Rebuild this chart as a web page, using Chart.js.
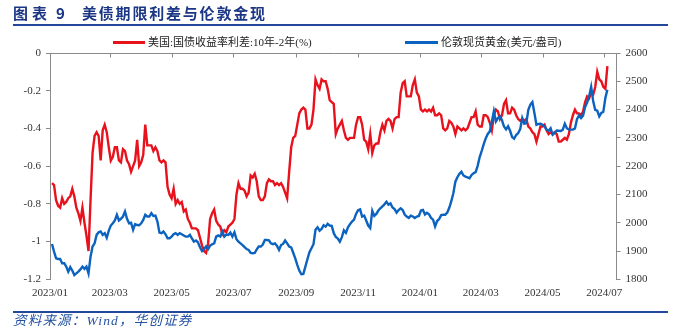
<!DOCTYPE html>
<html>
<head>
<meta charset="utf-8">
<script src="https://cdn.jsdelivr.net/npm/chart.js@4.4.1/dist/chart.umd.min.js"></script>
<style>
  html, body { margin: 0; padding: 0; background: #fff; }
  #wrap { position: relative; width: 680px; height: 327px; overflow: hidden; }
  #chart { position: absolute; left: 0; top: 0; }
  .t { position: absolute; white-space: nowrap; }
  .title { top: 2px; font: bold 15px "Noto Sans CJK SC", sans-serif; color: #1a3685; }
  .rule { position: absolute; left: 13px; width: 655px; height: 2px; background: #23479a; }
  .leg { top: 34px; font: 11px "Liberation Serif", "Noto Sans CJK SC", serif; color: #222; line-height: 16px; }
  .swatch { position: absolute; top: 41px; height: 3px; }
  .src { top: 314px; font: italic 13.5px "Liberation Serif", "Noto Sans CJK SC", serif; color: #2452a2; letter-spacing: 1.2px; line-height: 13px; }
</style>
</head>
<body>
<div id="wrap">
  <canvas id="chart" width="680" height="327"></canvas>
  <div class="t title" style="left:13px; letter-spacing:4px;">图表</div>
  <div class="t title" style="left:56px;">9</div>
  <div class="t title" style="left:82px; letter-spacing:1.8px;">美债期限利差与伦敦金现</div>
  <div class="rule" style="top:24px;"></div>
  <div class="swatch" style="left:113px; width:32px; background:#e8121d;"></div>
  <div class="t leg" style="left:148px;">美国:国债收益率利差:10年-2年(%)</div>
  <div class="swatch" style="left:405px; width:33px; background:#0b63bf;"></div>
  <div class="t leg" style="left:441px;">伦敦现货黄金(美元/盎司)</div>
  <div class="rule" style="top:311px;"></div>
  <div class="t src" style="left:13px;">资料来源：Wind，华创证券</div>
</div>
<script>
const dates = [
  '2023-01-03','2023-01-05','2023-01-07','2023-01-09','2023-01-11','2023-01-13','2023-01-15','2023-01-17','2023-01-19','2023-01-21','2023-01-23','2023-01-25','2023-01-27','2023-01-29','2023-01-31',
  '2023-02-02','2023-02-04','2023-02-06','2023-02-08','2023-02-10','2023-02-12','2023-02-14','2023-02-16','2023-02-18','2023-02-20','2023-02-22','2023-02-24','2023-02-26','2023-02-28',
  '2023-03-02','2023-03-04','2023-03-06','2023-03-08','2023-03-10','2023-03-12','2023-03-14','2023-03-16','2023-03-18','2023-03-20','2023-03-22','2023-03-24','2023-03-26','2023-03-28','2023-03-30',
  '2023-04-01','2023-04-03','2023-04-05','2023-04-07','2023-04-09','2023-04-11','2023-04-13','2023-04-15','2023-04-17','2023-04-19','2023-04-21','2023-04-23','2023-04-25','2023-04-27','2023-04-29',
  '2023-05-01','2023-05-03','2023-05-05','2023-05-07','2023-05-09','2023-05-11','2023-05-13','2023-05-15','2023-05-17','2023-05-19','2023-05-21','2023-05-23','2023-05-25','2023-05-27','2023-05-29','2023-05-31',
  '2023-06-02','2023-06-04','2023-06-06','2023-06-08','2023-06-10','2023-06-12','2023-06-14','2023-06-16','2023-06-18','2023-06-20','2023-06-22','2023-06-24','2023-06-26','2023-06-28','2023-06-30',
  '2023-07-02','2023-07-04','2023-07-06','2023-07-08','2023-07-10','2023-07-12','2023-07-14','2023-07-16','2023-07-18','2023-07-20','2023-07-22','2023-07-24','2023-07-26','2023-07-28','2023-07-30',
  '2023-08-01','2023-08-03','2023-08-05','2023-08-07','2023-08-09','2023-08-11','2023-08-13','2023-08-15','2023-08-17','2023-08-19','2023-08-21','2023-08-23','2023-08-25','2023-08-27','2023-08-29','2023-08-31',
  '2023-09-02','2023-09-04','2023-09-06','2023-09-08','2023-09-10','2023-09-12','2023-09-14','2023-09-16','2023-09-18','2023-09-20','2023-09-22','2023-09-24','2023-09-26','2023-09-28','2023-09-30',
  '2023-10-02','2023-10-04','2023-10-06','2023-10-08','2023-10-10','2023-10-12','2023-10-14','2023-10-16','2023-10-18','2023-10-20','2023-10-22','2023-10-24','2023-10-26','2023-10-28','2023-10-30',
  '2023-11-01','2023-11-03','2023-11-05','2023-11-07','2023-11-09','2023-11-11','2023-11-13','2023-11-15','2023-11-17','2023-11-19','2023-11-21','2023-11-23','2023-11-25','2023-11-27','2023-11-29',
  '2023-12-01','2023-12-03','2023-12-05','2023-12-07','2023-12-09','2023-12-11','2023-12-13','2023-12-15','2023-12-17','2023-12-19','2023-12-21','2023-12-23','2023-12-25','2023-12-27','2023-12-29','2023-12-31',
  '2024-01-02','2024-01-04','2024-01-06','2024-01-08','2024-01-10','2024-01-12','2024-01-14','2024-01-16','2024-01-18','2024-01-20','2024-01-22','2024-01-24','2024-01-26','2024-01-28','2024-01-30',
  '2024-02-01','2024-02-03','2024-02-05','2024-02-07','2024-02-09','2024-02-11','2024-02-13','2024-02-15','2024-02-17','2024-02-19','2024-02-21','2024-02-23','2024-02-25','2024-02-27','2024-02-29',
  '2024-03-02','2024-03-04','2024-03-06','2024-03-08','2024-03-10','2024-03-12','2024-03-14','2024-03-16','2024-03-18','2024-03-20','2024-03-22','2024-03-24','2024-03-26','2024-03-28','2024-03-30',
  '2024-04-01','2024-04-03','2024-04-05','2024-04-07','2024-04-09','2024-04-11','2024-04-13','2024-04-15','2024-04-17','2024-04-19','2024-04-21','2024-04-23','2024-04-25','2024-04-27','2024-04-29',
  '2024-05-01','2024-05-03','2024-05-05','2024-05-07','2024-05-09','2024-05-11','2024-05-13','2024-05-15','2024-05-17','2024-05-19','2024-05-21','2024-05-23','2024-05-25','2024-05-27','2024-05-29','2024-05-31',
  '2024-06-02','2024-06-04','2024-06-06','2024-06-08','2024-06-10','2024-06-12','2024-06-14','2024-06-16','2024-06-18','2024-06-20','2024-06-22','2024-06-24','2024-06-26','2024-06-28','2024-06-30',
  '2024-07-02','2024-07-04'
];

// 美国10年-2年国债收益率利差 (%)
const spread = [
  -0.69,-0.70,-0.78,-0.81,-0.82,-0.77,-0.80,-0.79,-0.77,-0.76,
  -0.72,-0.76,-0.82,-0.85,-0.89,-0.82,-0.90,-0.97,-1.05,-0.78,
  -0.53,-0.44,-0.42,-0.44,-0.57,-0.41,-0.38,-0.42,-0.50,-0.57,
  -0.55,-0.50,-0.50,-0.57,-0.58,-0.51,-0.52,-0.57,-0.59,-0.63,
  -0.60,-0.57,-0.46,-0.60,-0.58,-0.54,-0.38,-0.49,-0.49,-0.49,
  -0.52,-0.50,-0.52,-0.57,-0.58,-0.57,-0.58,-0.71,-0.75,-0.77,
  -0.72,-0.80,-0.78,-0.80,-0.79,-0.84,-0.83,-0.88,-0.90,-0.93,
  -0.93,-0.93,-0.94,-0.98,-1.02,-1.05,-1.06,-1.01,-0.88,-0.85,
  -0.83,-0.89,-0.91,-0.92,-0.96,-0.94,-0.95,-0.92,-0.91,-0.90,
  -0.88,-0.75,-0.69,-0.72,-0.72,-0.73,-0.76,-0.74,-0.65,-0.66,
  -0.64,-0.68,-0.76,-0.78,-0.78,-0.76,-0.69,-0.67,-0.68,-0.68,
  -0.70,-0.69,-0.70,-0.69,-0.71,-0.74,-0.77,-0.63,-0.50,-0.45,
  -0.44,-0.38,-0.32,-0.30,-0.29,-0.30,-0.40,-0.40,-0.38,-0.30,
  -0.14,-0.17,-0.19,-0.14,-0.15,-0.15,-0.19,-0.25,-0.26,-0.27,
  -0.43,-0.40,-0.38,-0.36,-0.41,-0.45,-0.46,-0.45,-0.45,-0.45,
  -0.38,-0.34,-0.34,-0.38,-0.46,-0.47,-0.51,-0.43,-0.53,-0.49,
  -0.48,-0.48,-0.42,-0.38,-0.41,-0.36,-0.35,-0.36,-0.40,-0.35,
  -0.34,-0.34,-0.21,-0.16,-0.15,-0.23,-0.23,-0.23,-0.17,-0.14,
  -0.21,-0.23,-0.30,-0.31,-0.30,-0.31,-0.30,-0.31,-0.29,-0.33,
  -0.33,-0.32,-0.33,-0.40,-0.41,-0.40,-0.36,-0.37,-0.39,-0.43,
  -0.39,-0.40,-0.41,-0.40,-0.41,-0.40,-0.37,-0.34,-0.34,-0.31,
  -0.38,-0.39,-0.39,-0.33,-0.33,-0.34,-0.37,-0.41,-0.33,-0.30,
  -0.31,-0.35,-0.33,-0.27,-0.25,-0.32,-0.32,-0.29,-0.30,-0.33,
  -0.35,-0.36,-0.35,-0.36,-0.35,-0.39,-0.40,-0.42,-0.43,-0.47,
  -0.43,-0.39,-0.39,-0.38,-0.41,-0.43,-0.42,-0.43,-0.42,-0.43,
  -0.47,-0.47,-0.46,-0.45,-0.46,-0.43,-0.37,-0.33,-0.30,-0.32,
  -0.32,-0.33,-0.31,-0.26,-0.23,-0.24,-0.21,-0.22,-0.18,-0.10,
  -0.14,-0.15,-0.18,-0.19,-0.07
];

// 伦敦现货黄金 (美元/盎司)
const gold = [
  1925,1898,1874,1872,1872,1857,1857,1845,1827,1843,
  1831,1815,1821,1827,1835,1845,1837,1845,1821,1880,
  1916,1927,1957,1966,1969,1957,1963,1947,1972,1990,
  1998,2008,2028,2008,2014,2022,2040,2014,1998,2000,
  1975,1995,1992,1991,1998,2010,2028,2022,2022,2034,
  2024,2025,2004,1965,1963,1969,1959,1945,1945,1951,
  1959,1963,1957,1963,1959,1955,1951,1951,1957,1945,
  1933,1937,1931,1913,1900,1907,1916,1907,1919,1924,
  1927,1951,1955,1951,1969,1951,1958,1957,1965,1951,
  1966,1942,1933,1927,1921,1914,1907,1904,1893,1892,
  1893,1906,1916,1916,1923,1939,1939,1938,1927,1924,
  1927,1918,1904,1921,1925,1937,1927,1916,1913,1894,
  1874,1851,1831,1818,1819,1845,1871,1896,1910,1924,
  1975,1984,1972,1978,1991,1986,1996,1990,1989,1963,
  1950,1944,1933,1949,1973,1964,1984,1995,2004,2011,
  2031,2044,2047,2022,2025,2008,1990,1981,2042,2024,
  2031,2043,2051,2058,2065,2074,2064,2068,2054,2048,
  2036,2045,2051,2045,2029,2022,2017,2025,2022,2017,
  2022,2024,2043,2045,2029,2035,2030,2017,2011,1987,
  2006,2013,2027,2028,2028,2036,2053,2076,2104,2145,
  2161,2173,2180,2167,2163,2160,2157,2169,2175,2179,
  2201,2232,2254,2278,2299,2314,2323,2358,2394,2358,
  2370,2376,2362,2340,2330,2341,2325,2303,2297,2310,
  2317,2331,2370,2350,2352,2399,2418,2427,2388,2346,
  2349,2350,2346,2340,2329,2325,2334,2311,2317,2326,
  2325,2324,2329,2350,2334,2329,2329,2329,2333,2366,
  2379,2370,2378,2409,2425,2447,2480,2429,2399,2396,
  2376,2388,2392,2441,2470
];

const tickLabels = ['2023/01','2023/03','2023/05','2023/07','2023/09','2023/11','2024/01','2024/03','2024/05','2024/07'];
const axisEnd = '2024-07-13';

// days since 2023-01-01, used as the x value
const dayOf = s => {
  const [y, m, d] = s.split(/[-\/]/).map(Number);
  return (Date.UTC(y, m - 1, d || 1) - Date.UTC(2023, 0, 1)) / 864e5;
};
const tickDays = tickLabels.map(dayOf);

const axisGrey = '#8a8a8a';
const tickFont = { family: '"Liberation Serif", "Times New Roman", serif', size: 11 };

// top edge line with short ticks pointing down into the plot
const topFrame = {
  id: 'topFrame',
  beforeDatasetsDraw(chart) {
    const { ctx, chartArea: a, scales: { x } } = chart;
    ctx.save();
    ctx.strokeStyle = axisGrey;
    ctx.lineWidth = 1;
    ctx.beginPath();
    const yTop = Math.round(a.top) + 0.5;
    ctx.moveTo(a.left, yTop);
    ctx.lineTo(a.right, yTop);
    x.ticks.forEach(t => {
      const px = Math.round(x.getPixelForValue(t.value)) + 0.5;
      ctx.moveTo(px, yTop);
      ctx.lineTo(px, yTop + 4);
    });
    ctx.stroke();
    ctx.restore();
  }
};

new Chart(document.getElementById('chart'), {
  type: 'line',
  data: {
    datasets: [
      {
        label: '美国:国债收益率利差:10年-2年(%)',
        data: dates.map((d, i) => ({ x: dayOf(d), y: spread[i] })),
        yAxisID: 'y',
        borderColor: '#e8121d',
        borderWidth: 2.4,
        pointRadius: 0,
        tension: 0,
        order: 2
      },
      {
        label: '伦敦现货黄金(美元/盎司)',
        data: dates.map((d, i) => ({ x: dayOf(d), y: gold[i] })),
        yAxisID: 'y1',
        borderColor: '#0b63bf',
        borderWidth: 2.4,
        pointRadius: 0,
        tension: 0,
        order: 1
      }
    ]
  },
  options: {
    responsive: false,
    animation: false,
    devicePixelRatio: 1,
    layout: { padding: { top: 53, left: 0, right: 0, bottom: 0 } },
    plugins: { legend: { display: false }, tooltip: { enabled: false } },
    scales: {
      x: {
        type: 'linear',
        min: 0,
        max: dayOf(axisEnd),
        grid: { display: false, drawTicks: false },
        border: { display: false },
        afterBuildTicks: s => { s.ticks = tickDays.map(v => ({ value: v })); },
        afterFit: s => { s.height = 47.7; },
        ticks: {
          color: '#333',
          font: tickFont,
          padding: 7,
          maxRotation: 0,
          autoSkip: false,
          callback: v => tickLabels[tickDays.indexOf(v)]
        }
      },
      y: {
        position: 'left',
        min: -1.2,
        max: 0,
        afterFit: s => { s.width = 50; },
        grid: { drawOnChartArea: false, tickLength: 4, color: axisGrey },
        border: { color: axisGrey },
        ticks: {
          stepSize: 0.2,
          color: '#333',
          font: tickFont,
          padding: 5,
          callback: v => String(Number(v.toFixed(1)))
        }
      },
      y1: {
        position: 'right',
        min: 1800,
        max: 2600,
        afterFit: s => { s.width = 63.5; },
        grid: { drawOnChartArea: false, tickLength: 4, color: axisGrey },
        border: { color: axisGrey },
        ticks: {
          stepSize: 100,
          color: '#333',
          font: tickFont,
          padding: 5,
          callback: v => String(v)
        }
      }
    }
  },
  plugins: [topFrame]
});
</script>
</body>
</html>
